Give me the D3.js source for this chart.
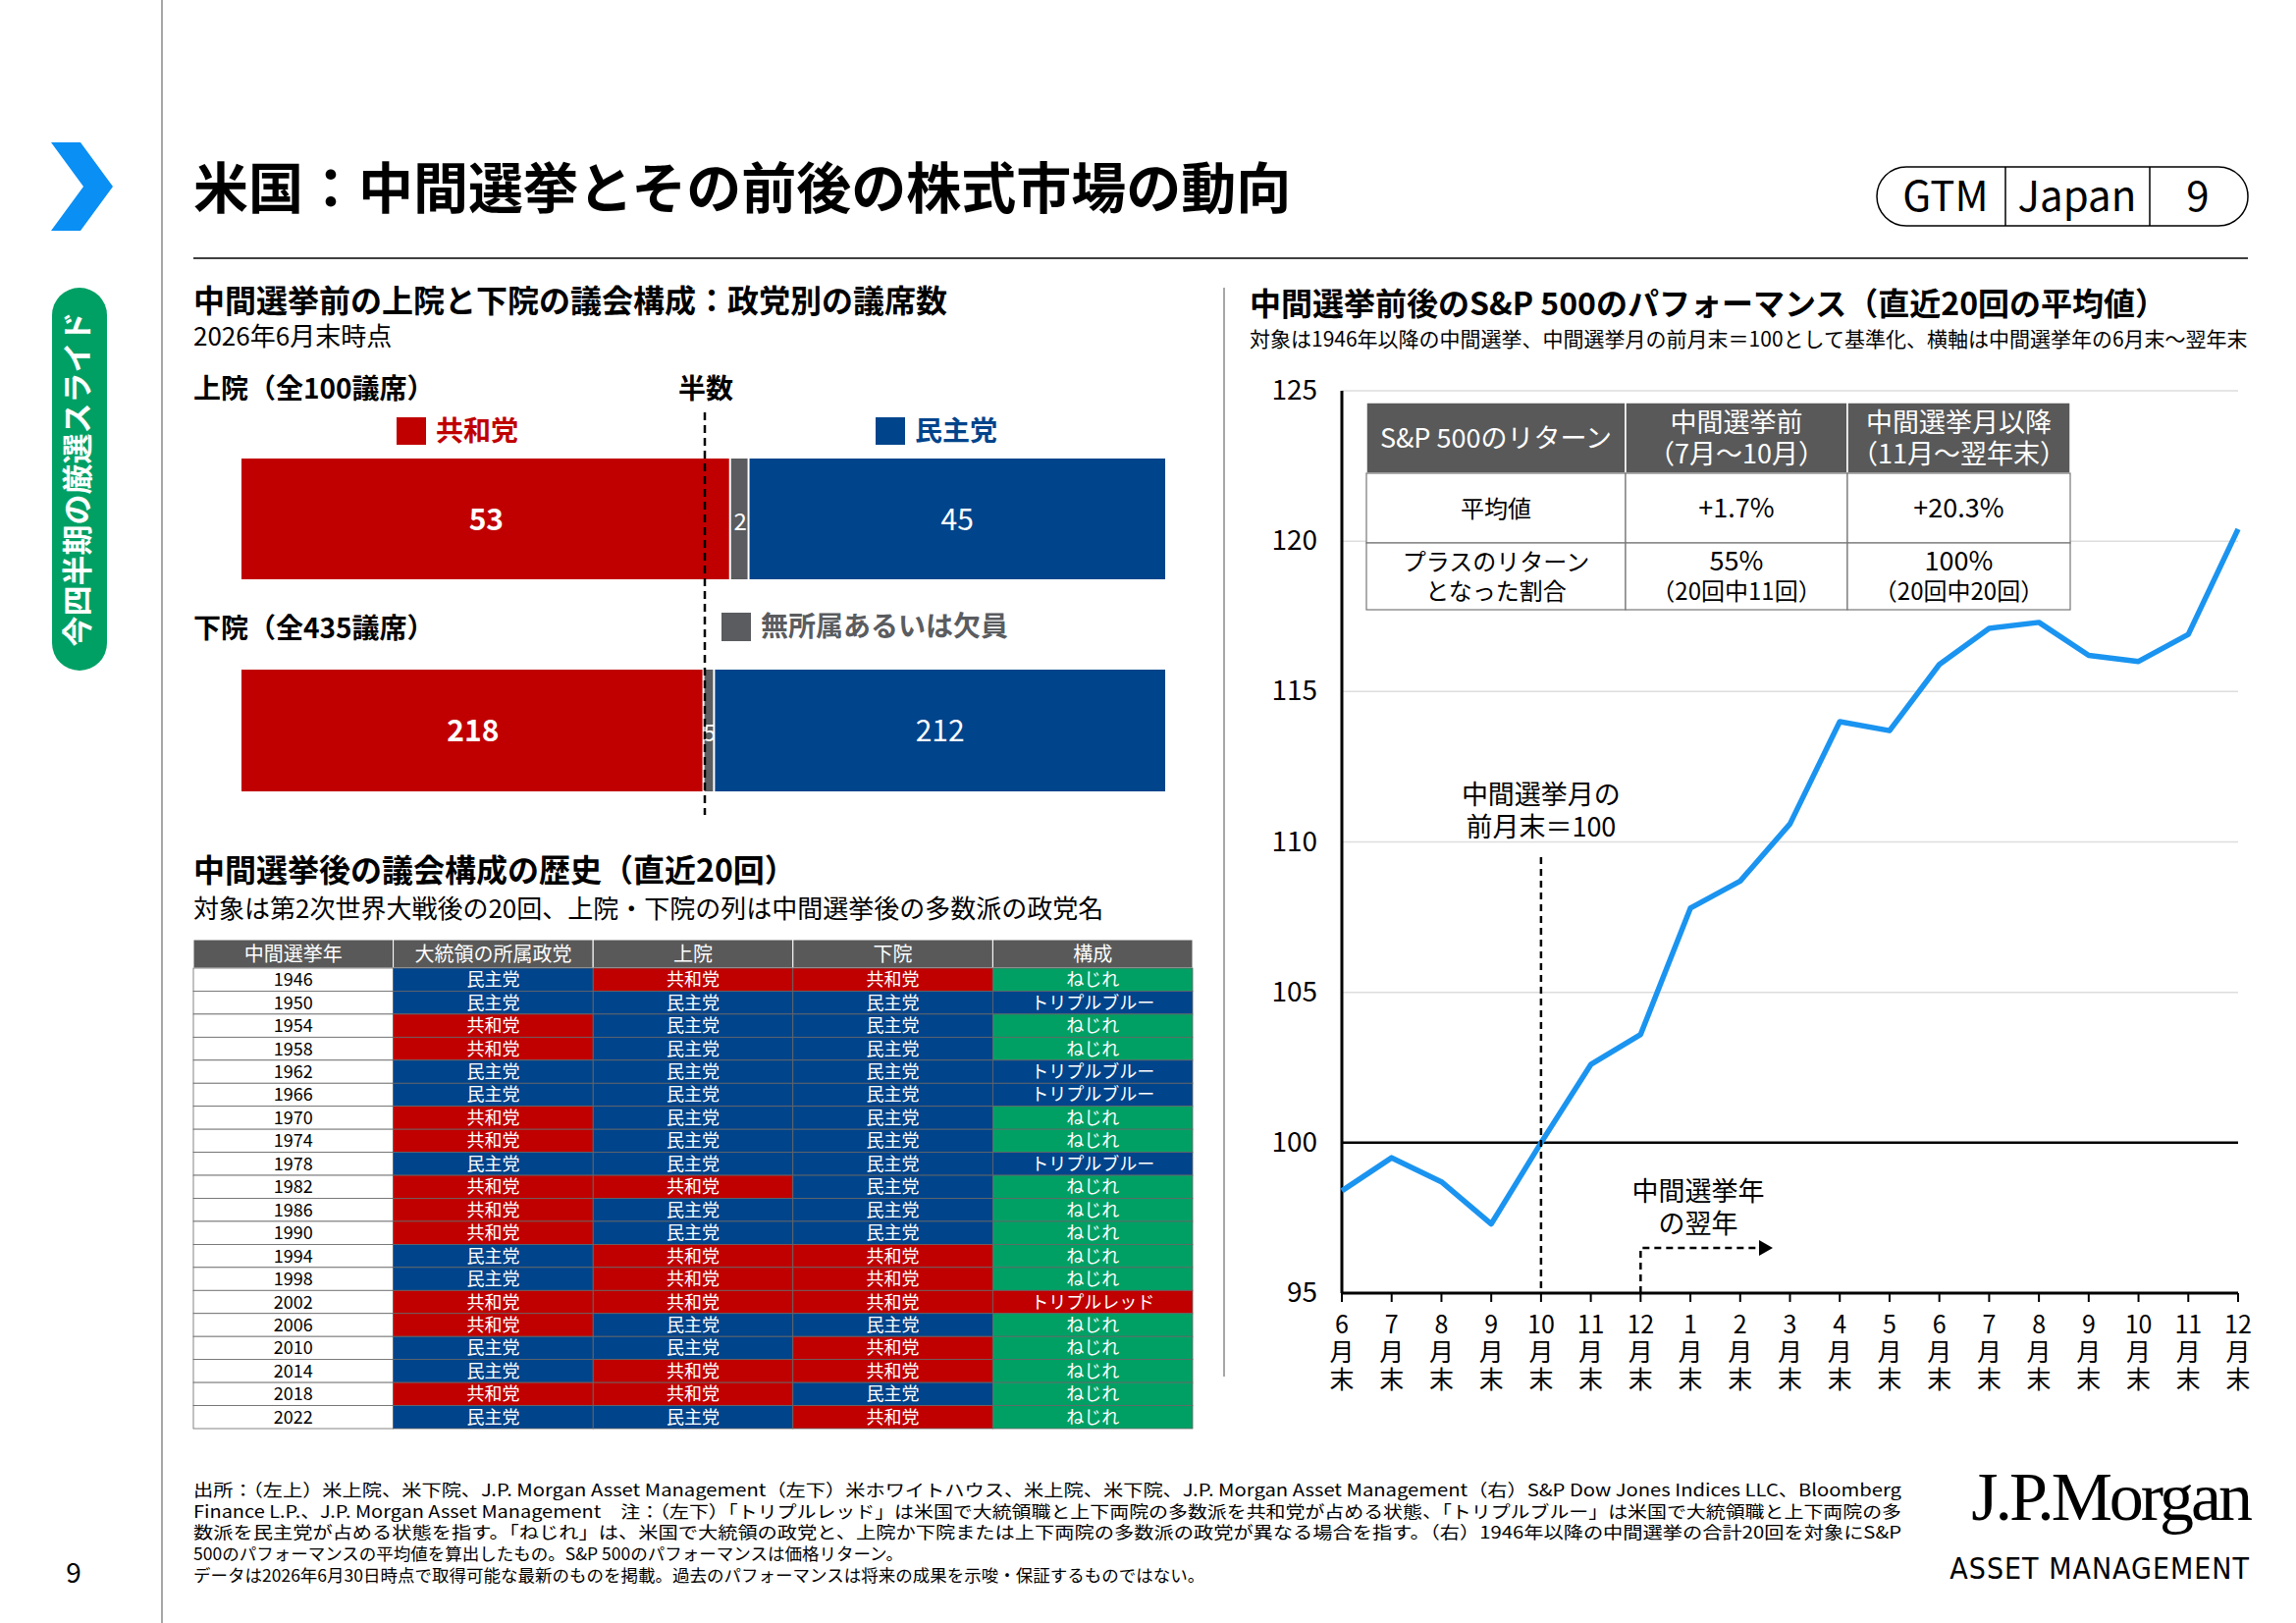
<!DOCTYPE html>
<html><head><meta charset="utf-8">
<script src="https://cdn.jsdelivr.net/npm/d3@7"></script>
<style>
body{margin:0;background:#fff;}
svg text{font-family:"Noto Sans CJK JP","Noto Sans",sans-serif;}
</style></head>
<body><svg id="c" width="2339" height="1653"></svg>
<script>
// data
const senate = [{party: 'R', v: 53}, {party: 'I', v: 2}, {party: 'D', v: 45}];
const house = [{party: 'R', v: 218}, {party: 'I', v: 5}, {party: 'D', v: 212}];
const histCols = ['中間選挙年', '大統領の所属政党', '上院', '下院', '構成'];
const histYears = [1946, 1950, 1954, 1958, 1962, 1966, 1970, 1974, 1978, 1982, 1986, 1990, 1994, 1998, 2002, 2006, 2010, 2014, 2018, 2022];
const histPres = 'DDRRDDRRDRRRDDRRDDRD';
const histSenate = 'RDDDDDDDDRDDRRRDDRRD';
const histHouse = 'RDDDDDDDDDDDRRRDRRDR';
const histComp = ['ねじれ', 'トリプルブルー', 'ねじれ', 'ねじれ', 'トリプルブルー', 'トリプルブルー', 'ねじれ', 'ねじれ', 'トリプルブルー', 'ねじれ', 'ねじれ', 'ねじれ', 'ねじれ', 'ねじれ', 'トリプルレッド', 'ねじれ', 'ねじれ', 'ねじれ', 'ねじれ', 'ねじれ'];
const months = ['6', '7', '8', '9', '10', '11', '12', '1', '2', '3', '4', '5', '6', '7', '8', '9', '10', '11', '12'];
const spx = [98.4, 99.5, 98.7, 97.3, 100, 102.6, 103.6, 107.8, 108.7, 110.6, 114.0, 113.7, 115.9, 117.1, 117.3, 116.2, 116.0, 116.9, 120.4];
const yTicks = [95, 100, 105, 110, 115, 120, 125];
const statHead = [['S&P 500のリターン'], ['中間選挙前', '（7月～10月）'], ['中間選挙月以降', '（11月～翌年末）']];
const statRows = [
  [['平均値'], ['+1.7%'], ['+20.3%']],
  [['プラスのリターン', 'となった割合'], ['55%', '（20回中11回）'], ['100%', '（20回中20回）']]
];

const RED = '#c00000', BLUE = '#00448b', GRAY = '#5a5c5f', GREEN = '#00a065', LINE = '#1a94f0';
const partyColor = {R: RED, D: BLUE, I: GRAY};
const partyName = {R: '共和党', D: '民主党'};
const svg = d3.select('#c');

function txt(x, y, s, size, opts = {}) {
  return svg.append('text').attr('x', x).attr('y', y).text(s)
    .attr('font-size', size).attr('fill', opts.fill || '#000')
    .attr('font-weight', opts.bold ? 700 : 400)
    .attr('text-anchor', opts.anchor || 'start');
}

// page frame
svg.append('line').attr('x1', 165).attr('x2', 165).attr('y1', 0).attr('y2', 1653).attr('stroke', '#888').attr('stroke-width', 1.5);
svg.append('path').attr('d', 'M52,145 L82,145 L115,190 L82,235 L52,235 L85,190 Z').attr('fill', '#0a8ff5');
svg.append('rect').attr('x', 53).attr('y', 293).attr('width', 56).attr('height', 390).attr('rx', 28).attr('fill', GREEN);
svg.append('text').attr('transform', 'translate(90,488) rotate(-90)').attr('text-anchor', 'middle')
  .attr('font-size', 31).attr('font-weight', 700).attr('fill', '#fff').text('今四半期の厳選スライド');
txt(75, 1612, '9', 28, {anchor: 'middle'});

txt(197, 212, '米国：中間選挙とその前後の株式市場の動向', 56, {bold: true});
svg.append('line').attr('x1', 197).attr('x2', 2290).attr('y1', 263).attr('y2', 263).attr('stroke', '#000').attr('stroke-width', 1.5);
svg.append('rect').attr('x', 1912).attr('y', 170).attr('width', 378).attr('height', 60).attr('rx', 30).attr('fill', 'none').attr('stroke', '#000').attr('stroke-width', 1.5);
[2043, 2190].forEach(x => svg.append('line').attr('x1', x).attr('x2', x).attr('y1', 170).attr('y2', 230).attr('stroke', '#000').attr('stroke-width', 1.5));
txt(1982, 215, 'GTM', 42, {anchor: 'middle'});
txt(2116, 215, 'Japan', 42, {anchor: 'middle'});
txt(2239, 215, '9', 42, {anchor: 'middle'});
svg.append('line').attr('x1', 1247).attr('x2', 1247).attr('y1', 293).attr('y2', 1402).attr('stroke', '#888').attr('stroke-width', 1.5);

// seat bars
txt(197, 318, '中間選挙前の上院と下院の議会構成：政党別の議席数', 32, {bold: true});
txt(197, 352, '2026年6月末時点', 26);
txt(197, 406, '上院（全100議席）', 28, {bold: true});
txt(719, 406, '半数', 28, {bold: true, anchor: 'middle'});
svg.append('rect').attr('x', 404).attr('y', 425).attr('width', 30).attr('height', 28).attr('fill', RED);
txt(444, 449, '共和党', 28, {bold: true, fill: RED});
svg.append('rect').attr('x', 892).attr('y', 425).attr('width', 30).attr('height', 28).attr('fill', BLUE);
txt(932, 449, '民主党', 28, {bold: true, fill: BLUE});
txt(197, 650, '下院（全435議席）', 28, {bold: true});
svg.append('rect').attr('x', 735).attr('y', 624).attr('width', 30).attr('height', 29).attr('fill', GRAY);
txt(775, 648, '無所属あるいは欠員', 28, {bold: true, fill: GRAY});

function seatBar(data, total, y0, h) {
  const x = d3.scaleLinear().domain([0, total]).range([246, 1187]);
  let acc = 0;
  const g = svg.append('g');
  data.forEach(d => {
    const x0 = x(acc), x1 = x(acc + d.v);
    acc += d.v;
    g.append('rect').attr('x', x0).attr('y', y0).attr('width', x1 - x0 - (d.party === 'D' ? 0 : 2)).attr('height', h).attr('fill', partyColor[d.party]);
    g.append('text').attr('x', (x0 + x1) / 2).attr('y', y0 + h / 2 + 11).attr('text-anchor', 'middle')
      .attr('font-size', d.party === 'I' ? 24 : 30).attr('font-weight', d.party === 'R' ? 700 : 400).attr('fill', '#fff').text(d.v);
  });
}
seatBar(senate, 100, 467, 123);
seatBar(house, 435, 682, 124);
svg.append('line').attr('x1', 718).attr('x2', 718).attr('y1', 420).attr('y2', 830).attr('stroke', '#000').attr('stroke-width', 2.5).attr('stroke-dasharray', '8,5');

// history table
txt(197, 898, '中間選挙後の議会構成の歴史（直近20回）', 32, {bold: true});
txt(197, 935, '対象は第2次世界大戦後の20回、上院・下院の列は中間選挙後の多数派の政党名', 26);
const tx = d3.scaleBand().domain(histCols).range([197, 1215]);
const ty = d3.scaleBand().domain(histYears).range([986, 1455]);
histCols.forEach(c => {
  svg.append('rect').attr('x', tx(c)).attr('y', 957).attr('width', tx.bandwidth()).attr('height', 29).attr('fill', '#595959').attr('stroke', '#fff').attr('stroke-width', 1);
  txt(tx(c) + tx.bandwidth() / 2, 979, c, 20, {anchor: 'middle', fill: '#fff'});
});
histYears.forEach((yr, i) => {
  const cells = [
    {fill: '#fff', s: yr, c: '#000'},
    {fill: partyColor[histPres[i]], s: partyName[histPres[i]], c: '#fff'},
    {fill: partyColor[histSenate[i]], s: partyName[histSenate[i]], c: '#fff'},
    {fill: partyColor[histHouse[i]], s: partyName[histHouse[i]], c: '#fff'},
    {fill: histComp[i] === 'ねじれ' ? GREEN : (histComp[i] === 'トリプルレッド' ? RED : BLUE), s: histComp[i], c: '#fff'}
  ];
  cells.forEach((cell, j) => {
    svg.append('rect').attr('x', tx(histCols[j])).attr('y', ty(yr)).attr('width', tx.bandwidth()).attr('height', ty.bandwidth())
      .attr('fill', cell.fill).attr('stroke', '#666').attr('stroke-width', 0.8);
    txt(tx(histCols[j]) + tx.bandwidth() / 2, ty(yr) + ty.bandwidth() / 2 + 6.5, cell.s, 18, {anchor: 'middle', fill: cell.c});
  });
});

// S&P chart
txt(1273, 321, '中間選挙前後のS&P 500のパフォーマンス（直近20回の平均値）', 32, {bold: true});
txt(1273, 353, '対象は1946年以降の中間選挙、中間選挙月の前月末＝100として基準化、横軸は中間選挙年の6月末～翌年末', 21);
const x = d3.scalePoint().domain(d3.range(months.length)).range([1367, 2280]);
const y = d3.scaleLinear().domain([95, 125]).range([1317, 398]);
const cg = svg.append('g');
yTicks.forEach(t => {
  cg.append('line').attr('x1', 1367).attr('x2', 2280).attr('y1', y(t)).attr('y2', y(t))
    .attr('stroke', t === 100 ? '#000' : '#ddd').attr('stroke-width', t === 100 ? 2.5 : 1.5);
  cg.append('text').attr('x', 1342).attr('y', y(t) + 9).attr('text-anchor', 'end').attr('font-size', 28).text(t);
});
cg.append('line').attr('x1', 1367).attr('x2', 1367).attr('y1', 398).attr('y2', 1317).attr('stroke', '#000').attr('stroke-width', 3);
cg.append('line').attr('x1', 1367).attr('x2', 2280).attr('y1', 1317).attr('y2', 1317).attr('stroke', '#000').attr('stroke-width', 3);
months.forEach((m, i) => {
  cg.append('line').attr('x1', x(i)).attr('x2', x(i)).attr('y1', 1317).attr('y2', 1326).attr('stroke', '#000').attr('stroke-width', 2);
  const t = cg.append('text').attr('text-anchor', 'middle').attr('font-size', 25);
  ['' + m, '月', '末'].forEach((s, k) => t.append('tspan').attr('x', x(i)).attr('y', 1358 + k * 28).text(s));
});
cg.append('path').datum(spx).attr('fill', 'none').attr('stroke', LINE).attr('stroke-width', 5.5).attr('stroke-linejoin', 'round')
  .attr('d', d3.line().x((d, i) => x(i)).y(d => y(d)));
// annotations
cg.append('line').attr('x1', x(4)).attr('x2', x(4)).attr('y1', 873).attr('y2', 1317).attr('stroke', '#000').attr('stroke-width', 2.5).attr('stroke-dasharray', '7,5');
txt(x(4), 819, '中間選挙月の', 27, {anchor: 'middle'});
txt(x(4), 852, '前月末＝100', 27, {anchor: 'middle'});
cg.append('path').attr('d', `M${x(6)},1317 V1271 H1792`).attr('fill', 'none').attr('stroke', '#000').attr('stroke-width', 2.5).attr('stroke-dasharray', '7,5');
cg.append('path').attr('d', 'M1792,1263 L1806,1271 L1792,1279 Z').attr('fill', '#000');
txt(1730, 1223, '中間選挙年', 27, {anchor: 'middle'});
txt(1730, 1256, 'の翌年', 27, {anchor: 'middle'});

// stats table
const sx = [1392, 1656, 1882, 2109];
const sy = [410, 482, 553, 621];
const sg = svg.append('g');
statHead.forEach((lines, j) => {
  sg.append('rect').attr('x', sx[j]).attr('y', sy[0]).attr('width', sx[j + 1] - sx[j]).attr('height', sy[1] - sy[0]).attr('fill', '#595959').attr('stroke', '#fff').attr('stroke-width', 1.5);
  lines.forEach((s, k) => sg.append('text').attr('x', (sx[j] + sx[j + 1]) / 2)
    .attr('y', (sy[0] + sy[1]) / 2 + 10 + (k - (lines.length - 1) / 2) * 32)
    .attr('text-anchor', 'middle').attr('font-size', 27).attr('fill', '#fff').text(s));
});
statRows.forEach((row, r) => row.forEach((lines, j) => {
  sg.append('rect').attr('x', sx[j]).attr('y', sy[r + 1]).attr('width', sx[j + 1] - sx[j]).attr('height', sy[r + 2] - sy[r + 1]).attr('fill', '#fff').attr('stroke', '#777').attr('stroke-width', 1.2);
  lines.forEach((s, k) => sg.append('text').attr('x', (sx[j] + sx[j + 1]) / 2)
    .attr('y', (sy[r + 1] + sy[r + 2]) / 2 + 9 + (k - (lines.length - 1) / 2) * 30)
    .attr('text-anchor', 'middle').attr('font-size', (j > 0 && k === 0) ? 27 : 24).text(s));
}));

// footer
const foot = [
  '出所：（左上）米上院、米下院、J.P. Morgan Asset Management（左下）米ホワイトハウス、米上院、米下院、J.P. Morgan Asset Management（右）S&P Dow Jones Indices LLC、Bloomberg',
  'Finance L.P.、J.P. Morgan Asset Management　注：（左下）「トリプルレッド」は米国で大統領職と上下両院の多数派を共和党が占める状態、「トリプルブルー」は米国で大統領職と上下両院の多',
  '数派を民主党が占める状態を指す。「ねじれ」は、米国で大統領の政党と、上院か下院または上下両院の多数派の政党が異なる場合を指す。（右）1946年以降の中間選挙の合計20回を対象にS&P',
  '500のパフォーマンスの平均値を算出したもの。S&P 500のパフォーマンスは価格リターン。',
  'データは2026年6月30日時点で取得可能な最新のものを掲載。過去のパフォーマンスは将来の成果を示唆・保証するものではない。'
];
foot.forEach((s, i) => svg.append('text').attr('x', 197).attr('y', 1524 + i * 21.7).attr('font-size', 17.5)
  .attr('textLength', i < 3 ? 1740 : null).attr('lengthAdjust', 'spacingAndGlyphs').text(s));
svg.append('text').attr('x', 2292).attr('y', 1548).attr('text-anchor', 'end').attr('font-size', 70)
  .style('font-family', '"Liberation Serif",serif').attr('letter-spacing', -3).text('J.P.Morgan');
svg.append('text').attr('x', 2292).attr('y', 1608).attr('text-anchor', 'end').attr('font-size', 30)
  .style('font-family', '"Liberation Sans Narrow","DejaVu Sans Condensed",sans-serif').attr('letter-spacing', 1).text('ASSET MANAGEMENT');
</script></body></html>
